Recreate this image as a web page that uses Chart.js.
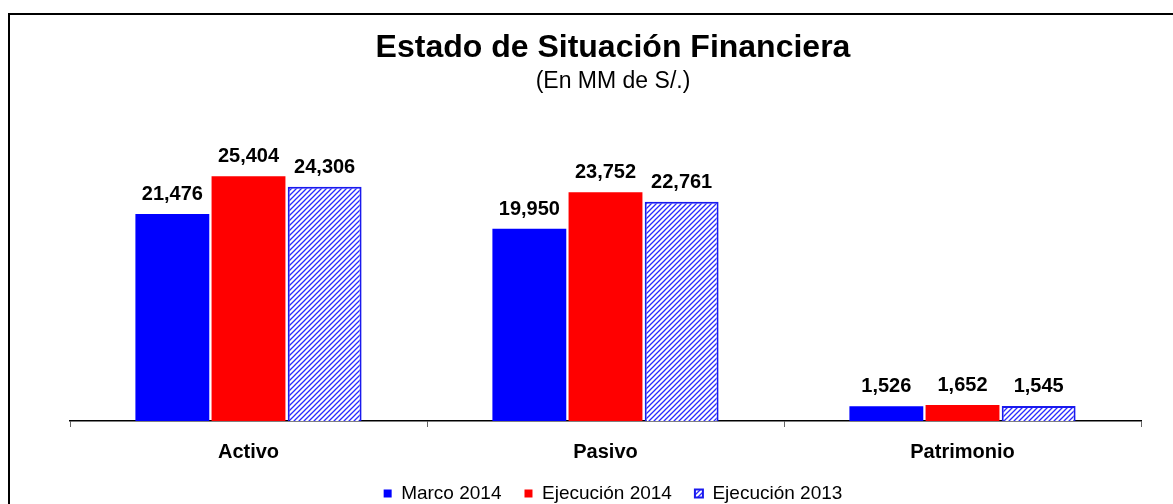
<!DOCTYPE html>
<html lang="es">
<head>
<meta charset="utf-8">
<title>Estado de Situación Financiera</title>
<script src="https://cdn.jsdelivr.net/npm/chart.js@4/dist/chart.umd.min.js"></script>
<style>
    html, body { margin: 0; padding: 0; background: #fff; overflow: hidden; }
    .frame {
        position: absolute; left: 8px; top: 13px;
        width: 1200px; height: 520px;
        border: 2px solid #000;
    }
    /* a bit taller than the window so the legend sits low like the original */
    .wrap { position: absolute; left: 0; top: 0; width: 1173px; height: 513px; }
</style>
</head>
<body>
<div class="frame"></div>
<div class="wrap"><canvas id="balanceChart"></canvas></div>
<script>
// data (MM de S/.)
const categories = ["Activo", "Pasivo", "Patrimonio"];
const seriesNames = ["Marco 2014", "Ejecución 2014", "Ejecución 2013"];
const marco2014 = [21476, 19950, 1526];
const ejecucion2014 = [25404, 23752, 1652];
const ejecucion2013 = [24306, 22761, 1545];

document.addEventListener("DOMContentLoaded", function () {
    const FONT = "Arial, 'Liberation Sans', sans-serif";

    // diagonal hatch for the 2013 bars
    function makeHatch() {
        const c = document.createElement("canvas");
        c.width = 5;
        c.height = 5;
        const g = c.getContext("2d");
        g.fillStyle = "#ffffff";
        g.fillRect(0, 0, 5, 5);
        g.strokeStyle = "#2a2aff";
        g.lineWidth = 1.3;
        g.beginPath();
        g.moveTo(0, 5); g.lineTo(5, 0);
        g.moveTo(-1, 1); g.lineTo(1, -1);
        g.moveTo(4, 6); g.lineTo(6, 4);
        g.stroke();
        return g.createPattern(c, "repeat");
    }

    // value labels on top of each bar
    const barLabels = {
        id: "barLabels",
        afterDatasetsDraw(chart) {
            const ctx = chart.ctx;
            ctx.save();
            ctx.font = "bold 20px " + FONT;
            ctx.fillStyle = "#000";
            ctx.textAlign = "center";
            ctx.textBaseline = "alphabetic";
            chart.data.datasets.forEach(function (ds, i) {
                chart.getDatasetMeta(i).data.forEach(function (bar, j) {
                    ctx.fillText(ds.data[j].toLocaleString("en-US"), bar.x, bar.y - 14);
                });
            });
            ctx.restore();
        },
    };

    const ctx = document.getElementById("balanceChart").getContext("2d");
    new Chart(ctx, {
        type: "bar",
        data: {
            labels: categories,
            datasets: [
                {
                    label: seriesNames[0],
                    data: marco2014,
                    backgroundColor: "#0000ff",
                    borderWidth: 0,
                },
                {
                    label: seriesNames[1],
                    data: ejecucion2014,
                    backgroundColor: "#ff0000",
                    borderWidth: 0,
                },
                {
                    label: seriesNames[2],
                    data: ejecucion2013,
                    backgroundColor: makeHatch(),
                    borderColor: "#1a1aee",
                    borderWidth: 2,
                },
            ],
        },
        options: {
            responsive: true,
            maintainAspectRatio: false,
            animation: false,
            categoryPercentage: 0.64,
            barPercentage: 0.97,
            layout: { padding: { top: 10, left: 70, right: 17, bottom: 0 } },
            plugins: {
                title: {
                    display: true,
                    text: "Estado de Situación Financiera",
                    color: "#000",
                    font: { family: FONT, size: 32, weight: "bold" },
                    padding: { top: 19, bottom: 0 },
                },
                subtitle: {
                    display: true,
                    text: "(En MM de S/.)",
                    color: "#000",
                    font: { family: FONT, size: 23 },
                    padding: { top: 0, bottom: 37 },
                },
                legend: {
                    position: "bottom",
                    labels: {
                        color: "#000",
                        font: { family: FONT, size: 19 },
                        boxWidth: 8,
                        boxHeight: 8,
                        padding: 23,
                    },
                },
                tooltip: { enabled: false },
            },
            scales: {
                x: {
                    border: { display: true, color: "#000", width: 1.5 },
                    grid: {
                        drawOnChartArea: false,
                        drawTicks: true,
                        tickLength: 6,
                        color: "#666",
                    },
                    ticks: {
                        color: "#000",
                        padding: 13,
                        font: { family: FONT, size: 20, weight: "bold" },
                    },
                    afterFit: function (scale) {
                        scale.height = 40;
                    },
                },
                y: {
                    position: "right",
                    min: 0,
                    max: 30000,
                    ticks: { display: false },
                    grid: { display: false },
                    border: { display: false },
                    afterFit: function (scale) {
                        scale.width = 15;
                    },
                },
            },
        },
        plugins: [barLabels],
    });
});
</script>
</body>
</html>
